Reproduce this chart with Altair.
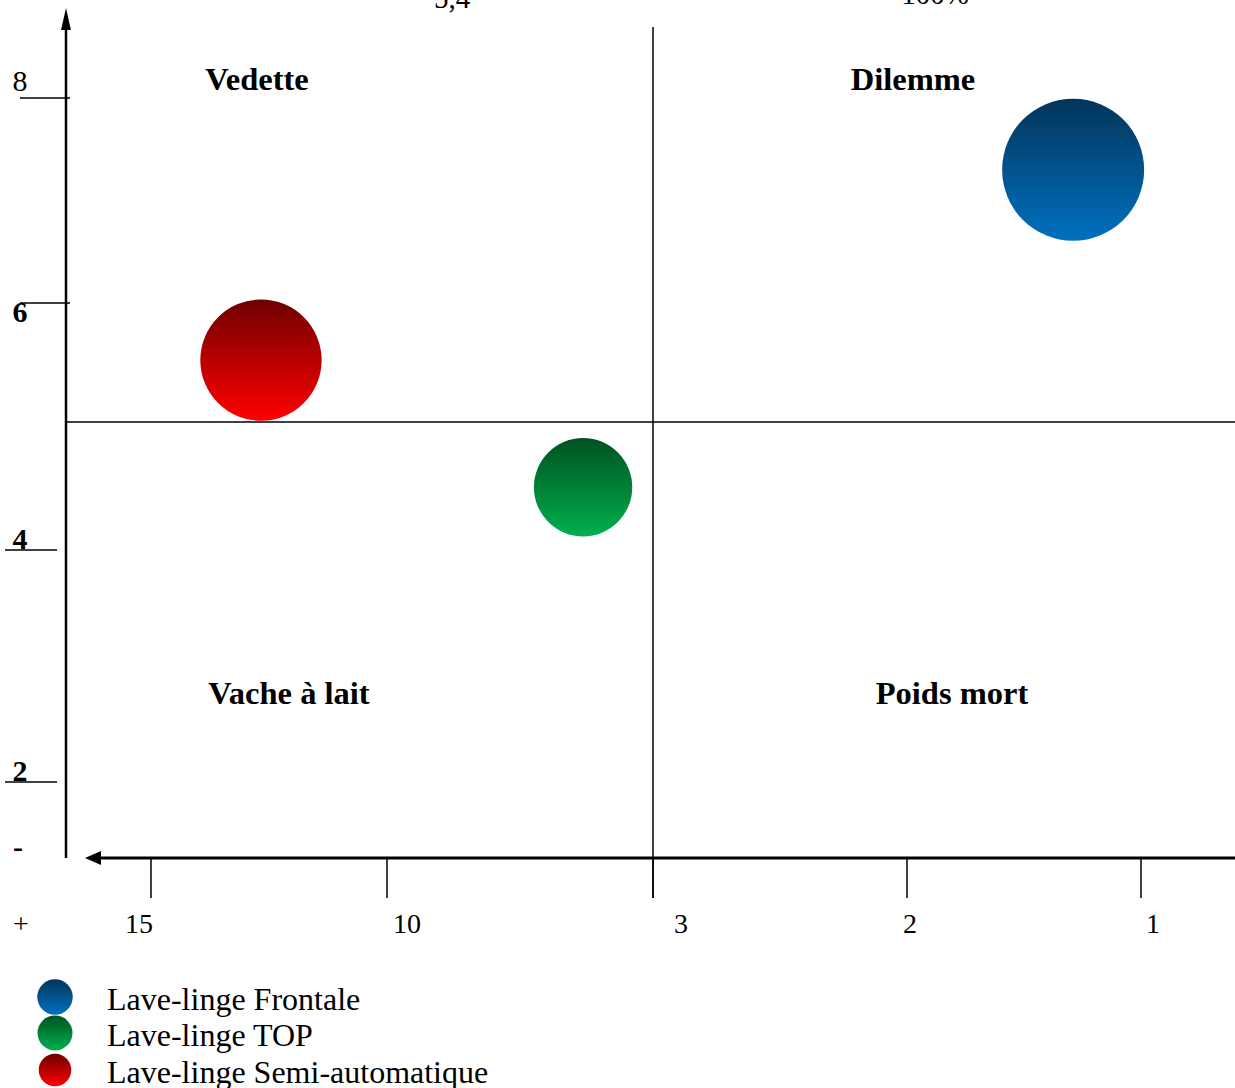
import altair as alt
import pandas as pd

# ---------------- data ----------------
series = ["Lave-linge Frontale", "Lave-linge TOP", "Lave-linge Semi-automatique"]
part_relative = [1.29, 4.84, 12.67]      # x : part de marché relative
croissance = [7.3, 4.49, 5.52]           # y : croissance
volume = [100, 48, 73]                   # taille relative des bulles
top_colors = ["#04355a", "#00521f", "#700000"]
bottom_colors = ["#0070c0", "#00b050", "#ff0000"]

x_ticks = [15, 10, 3, 2, 1]
x_tick_labels = ["15", "10", "3", "2", "1"]
y_ticks = [8, 6, 4, 2]
y_tick_labels = ["8", "6", "4", "2"]
x_threshold = 3
y_threshold = 5
quadrants = ["Vedette", "Dilemme", "Vache à lait", "Poids mort"]
top_notes = ["5,4", "100%"]

FONT = "Liberation Serif"

# piecewise scales (domain -> pixel range)
xscale = alt.Scale(domain=[15, 10, 3, 2, 1], range=[151, 387, 653, 907, 1141], nice=False, zero=False)
yscale = alt.Scale(domain=[8, 6, 5, 4, 2], range=[98, 303, 422, 550, 782], nice=False, zero=False)
sscale = alt.Scale(domain=[0, 100], range=[0, 20164])

bubbles = pd.DataFrame({"serie": series, "x": part_relative, "y": croissance, "volume": volume})
xt = pd.DataFrame({"x": x_ticks, "label": x_tick_labels})
yt = pd.DataFrame({"y": y_ticks, "label": y_tick_labels})

layers = []

def grad(top, bottom):
    return alt.LinearGradient(
        gradient="linear",
        stops=[alt.GradientStop(color=top, offset=0), alt.GradientStop(color=bottom, offset=1)],
        x1=0, x2=0, y1=0, y2=1,
    )

# dividers
layers.append(
    alt.Chart(pd.DataFrame({"x": [x_threshold]})).mark_rule(color="black", strokeWidth=1.5).encode(
        x=alt.X("x:Q", scale=xscale, axis=None), y=alt.value(27), y2=alt.value(898)
    )
)
layers.append(
    alt.Chart(pd.DataFrame({"y": [y_threshold]})).mark_rule(color="black", strokeWidth=1.5).encode(
        y=alt.Y("y:Q", scale=yscale, axis=None), x=alt.value(66), x2=alt.value(1235)
    )
)

# axes lines
layers.append(
    alt.Chart(pd.DataFrame({"a": [0]})).mark_rule(color="black", strokeWidth=2.5).encode(
        x=alt.value(66), y=alt.value(24), y2=alt.value(858)
    )
)
layers.append(
    alt.Chart(pd.DataFrame({"a": [0]})).mark_rule(color="black", strokeWidth=3).encode(
        x=alt.value(98), x2=alt.value(1235), y=alt.value(858)
    )
)
# arrow heads
layers.append(
    alt.Chart(pd.DataFrame({"a": [0]})).mark_point(
        shape="M0,-1L0.45,1L-0.45,1Z", filled=True, color="black", opacity=1, size=484
    ).encode(x=alt.value(66), y=alt.value(19))
)
layers.append(
    alt.Chart(pd.DataFrame({"a": [0]})).mark_point(
        shape="M-1,0L1,-0.875L1,0.875Z", filled=True, color="black", opacity=1, size=256
    ).encode(x=alt.value(93), y=alt.value(858))
)

# x ticks and labels
layers.append(
    alt.Chart(xt).mark_rule(color="black", strokeWidth=1.5).encode(
        x=alt.X("x:Q", scale=xscale, axis=None), y=alt.value(858), y2=alt.value(898)
    )
)
label_nudge = {"15": -12, "10": 20, "3": 28, "2": 3, "1": 12}
for lab in x_tick_labels:
    layers.append(
        alt.Chart(xt).transform_filter(alt.datum.label == lab).mark_text(
            font=FONT, fontSize=28, align="center", baseline="alphabetic", dx=label_nudge[lab]
        ).encode(
            x=alt.X("x:Q", scale=xscale, axis=None), y=alt.value(933), text="label:N"
        )
    )

# y ticks
layers.append(
    alt.Chart(yt).transform_filter(alt.datum.y >= 6).mark_rule(color="black", strokeWidth=1.5).encode(
        y=alt.Y("y:Q", scale=yscale, axis=None), x=alt.value(20), x2=alt.value(70)
    )
)
layers.append(
    alt.Chart(yt).transform_filter(alt.datum.y < 6).mark_rule(color="black", strokeWidth=1.5).encode(
        y=alt.Y("y:Q", scale=yscale, axis=None), x=alt.value(5), x2=alt.value(57)
    )
)
# y labels
layers.append(
    alt.Chart(yt).transform_filter(alt.datum.y == 8).mark_text(
        font=FONT, fontSize=30, align="center", baseline="alphabetic", dy=-7
    ).encode(y=alt.Y("y:Q", scale=yscale, axis=None), x=alt.value(20), text="label:N")
)
layers.append(
    alt.Chart(yt).transform_filter(alt.datum.y == 6).mark_text(
        font=FONT, fontSize=30, fontWeight="bold", align="center", baseline="alphabetic", dy=19
    ).encode(y=alt.Y("y:Q", scale=yscale, axis=None), x=alt.value(20), text="label:N")
)
layers.append(
    alt.Chart(yt).transform_filter(alt.datum.y < 6).mark_text(
        font=FONT, fontSize=30, fontWeight="bold", align="center", baseline="alphabetic", dy=-1
    ).encode(y=alt.Y("y:Q", scale=yscale, axis=None), x=alt.value(20), text="label:N")
)
# - / + markers
layers.append(
    alt.Chart(pd.DataFrame({"t": ["-"]})).mark_text(
        font=FONT, fontSize=30, fontWeight="bold", align="center", baseline="alphabetic"
    ).encode(x=alt.value(18), y=alt.value(857), text="t:N")
)
layers.append(
    alt.Chart(pd.DataFrame({"t": ["+"]})).mark_text(
        font=FONT, fontSize=28, align="center", baseline="alphabetic"
    ).encode(x=alt.value(21), y=alt.value(933), text="t:N")
)

# top notes (cut off at the top edge, as in the original)
for note, px, py in zip(top_notes, [452, 935], [8, 4]):
    layers.append(
        alt.Chart(pd.DataFrame({"t": [note]})).mark_text(
            font=FONT, fontSize=29, align="center", baseline="alphabetic"
        ).encode(x=alt.value(px), y=alt.value(py), text="t:N")
    )

# quadrant labels
for q, px, py in zip(quadrants, [257, 913, 289, 952], [90, 90, 704, 704]):
    layers.append(
        alt.Chart(pd.DataFrame({"t": [q]})).mark_text(
            font=FONT, fontSize=32.5, fontWeight="bold", align="center", baseline="alphabetic"
        ).encode(x=alt.value(px), y=alt.value(py), text="t:N")
    )

# bubbles
for name, top, bottom in zip(series, top_colors, bottom_colors):
    layers.append(
        alt.Chart(bubbles).transform_filter(alt.datum.serie == name).mark_circle(
            fill=grad(top, bottom), opacity=1, strokeWidth=0
        ).encode(
            x=alt.X("x:Q", scale=xscale, axis=None),
            y=alt.Y("y:Q", scale=yscale, axis=None),
            size=alt.Size("volume:Q", scale=sscale, legend=None),
        )
    )

# custom legend
for i, (name, top, bottom) in enumerate(zip(series, top_colors, bottom_colors)):
    cy = [997, 1033, 1070][i]
    by = [1010, 1046, 1083][i]
    layers.append(
        alt.Chart(pd.DataFrame({"serie": [name]})).mark_circle(
            fill=grad(top, bottom), opacity=1, size=[1260, 1225, 1060][i]
        ).encode(x=alt.value(55), y=alt.value(cy))
    )
    layers.append(
        alt.Chart(pd.DataFrame({"serie": [name]})).mark_text(
            font=FONT, fontSize=32, align="left", baseline="alphabetic"
        ).encode(x=alt.value(107), y=alt.value(by), text="serie:N")
    )

chart = alt.layer(*layers).properties(
    width=1235, height=1088, padding=0,
    autosize=alt.AutoSizeParams(type="none"),
    background="white",
).configure_view(stroke=None)

chart.save("out.html", embed_options={"renderer": "svg", "actions": False})
